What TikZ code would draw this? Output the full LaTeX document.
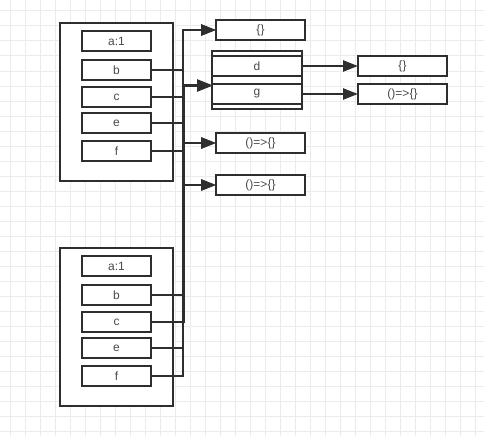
\documentclass[tikz,border=0pt]{standalone}
\usepackage{fontspec}
\setmainfont{Liberation Sans}
\usetikzlibrary{arrows.meta}
\definecolor{ink}{HTML}{2E2E2E}
\definecolor{txt}{HTML}{4A4A4A}
\definecolor{gridc}{HTML}{EBEBEB}
\tikzset{
  gridline/.style={draw=gridc, line width=1pt},
  objbox/.style={draw=ink, line width=2.4pt, rectangle, inner sep=0pt, outer sep=0pt, fill=white},
  propbox/.style={draw=ink, line width=2.4pt, rectangle, inner sep=0pt, outer sep=0pt, fill=white,
    text=txt, font=\fontsize{12}{14}\selectfont},
  link/.style={draw=ink, line width=2.4pt, -{Triangle[length=15pt,width=11pt]}}
}
\newcommand{\bx}[7]{% style, name, x1, y1, x2, y2, text
  \node[#1, minimum width={(#5)-(#3)}, minimum height={(#6)-(#4)}] (#2) at ({((#3)+(#5))/2},{((#4)+(#6))/2}) {#7};}
\begin{document}
\begin{tikzpicture}[x=1pt,y=-1pt]
\useasboundingbox (0,0) rectangle (484,436);
\fill[white] (0,0) rectangle (484,436);
\foreach \x in {10,25,...,475} \draw[gridline] (\x,0) -- (\x,436);
\foreach \y in {11,26,...,431} \draw[gridline] (0,\y) -- (484,\y);

% upper object
\bx{objbox}{oA}{60}{23}{173}{181}{}
\bx{propbox}{aA}{82}{31}{151}{51}{a:1}
\bx{propbox}{bA}{82}{60}{151}{80}{b}
\bx{propbox}{cA}{82}{87}{151}{107}{c}
\bx{propbox}{eA}{82}{113}{151}{133}{e}
\bx{propbox}{fA}{82}{141}{151}{161}{f}

% lower object
\bx{objbox}{oB}{60}{248}{173}{406}{}
\bx{propbox}{aB}{82}{256}{151}{276}{a:1}
\bx{propbox}{bB}{82}{285}{151}{305}{b}
\bx{propbox}{cB}{82}{312}{151}{332}{c}
\bx{propbox}{eB}{82}{338}{151}{358}{e}
\bx{propbox}{fB}{82}{366}{151}{386}{f}

% shared targets
\bx{propbox}{emp}{216}{20}{305}{40}{\{\}}
\bx{objbox}{dg}{212}{51}{302}{109}{}
\bx{propbox}{dd}{212}{56}{302}{76}{d}
\bx{propbox}{gg}{212}{84}{302}{104}{g}
\bx{propbox}{fnE}{216}{133}{305}{153}{()=>\{\}}
\bx{propbox}{fnF}{216}{175}{305}{195}{()=>\{\}}
\bx{propbox}{empD}{358}{56}{447}{76}{\{\}}
\bx{propbox}{fnG}{358}{84}{447}{104}{()=>\{\}}
\coordinate (dgin) at (212,85);
\coordinate (dginB) at (212,86);

% connectors from lower object
\draw[link] (bB.east) -- ++(32,0) |- (emp.west);
\draw[link] (cB.east) -- ++(33,0) |- (dginB);
\draw[link] (eB.east) -- ++(32,0) |- (fnE.west);
\draw[link] (fB.east) -- ++(32,0) |- (fnF.west);

% connectors from upper object
\draw[link] (bA.east) -- ++(32,0) |- (emp.west);
\draw[link] (cA.east) -- ++(32,0) |- (dgin);
\draw[link] (eA.east) -- ++(32,0) |- (fnE.west);
\draw[link] (fA.east) -- ++(32,0) |- (fnF.west);

% nested
\draw[link] (dd.east) -- (empD.west);
\draw[link] (gg.east) -- (fnG.west);
\end{tikzpicture}
\end{document}
